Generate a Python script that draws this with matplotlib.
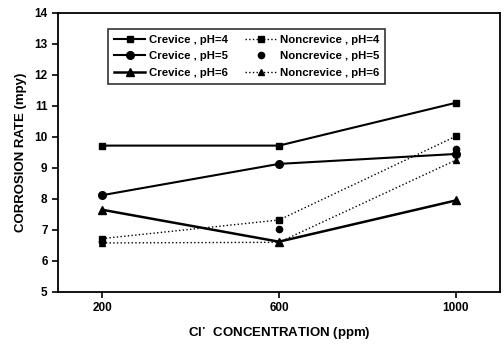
import numpy as np
import matplotlib.pyplot as plt

plt.rcParams['font.family'] = ['Liberation Sans', 'DejaVu Sans']
plt.rcParams['font.weight'] = 'bold'
plt.rcParams['axes.labelweight'] = 'bold'

conc = [200, 600, 1000]

crev_ph4 = [9.72, 9.72, 11.1]
crev_ph5 = [8.12, 9.13, 9.45]
crev_ph6 = [7.65, 6.62, 7.95]
nonc_ph4 = [6.72, 7.32, 10.02]
nonc_ph5 = [6.6, 7.02, 9.6]
nonc_ph6 = [6.58, 6.6, 9.25]

fig = plt.figure(figsize=(5.04, 3.5), dpi=100)
ax = fig.add_axes([0.115, 0.166, 0.877, 0.797])

ax.plot(conc, crev_ph4, '-', color='black', lw=1.5, marker='s', ms=5, label='Crevice , pH=4')
ax.plot(conc, crev_ph5, '-', color='black', lw=1.5, marker='o', ms=5.5, label='Crevice , pH=5')
ax.plot(conc, crev_ph6, '-', color='black', lw=1.8, marker='^', ms=5.5, label='Crevice , pH=6')
ax.plot(conc, nonc_ph4, ':', color='black', lw=1.0, marker='s', ms=4.5, label='Noncrevice , pH=4')
ax.plot(conc, nonc_ph5, color='black', marker='o', ms=4.5, linestyle='none', label='Noncrevice , pH=5')
ax.plot(conc, nonc_ph6, ':', color='black', lw=1.0, marker='^', ms=4.5, label='Noncrevice , pH=6')

ax.set_xlim(100, 1100)
ax.set_ylim(5, 14)
ax.set_xticks(conc)
ax.set_yticks(np.arange(5, 15, 1))
ax.tick_params(direction='out', length=4, width=1.2, labelsize=8.5)
for s in ax.spines.values():
    s.set_linewidth(1.3)

ax.set_xlabel('Cl$^{\\cdot}$  CONCENTRATION (ppm)', fontsize=9.5, labelpad=8)
ax.set_ylabel('CORROSION RATE (mpy)', fontsize=9.5, labelpad=5)

leg = ax.legend(ncol=2, loc='upper left', bbox_to_anchor=(0.113, 0.943),
                borderaxespad=0, fancybox=False, edgecolor='black',
                fontsize=8.2, handlelength=2.8, columnspacing=1.5,
                handletextpad=0.3, labelspacing=0.6, borderpad=0.5)
leg.get_frame().set_linewidth(1.2)

fig.savefig('out.png', dpi=100)
